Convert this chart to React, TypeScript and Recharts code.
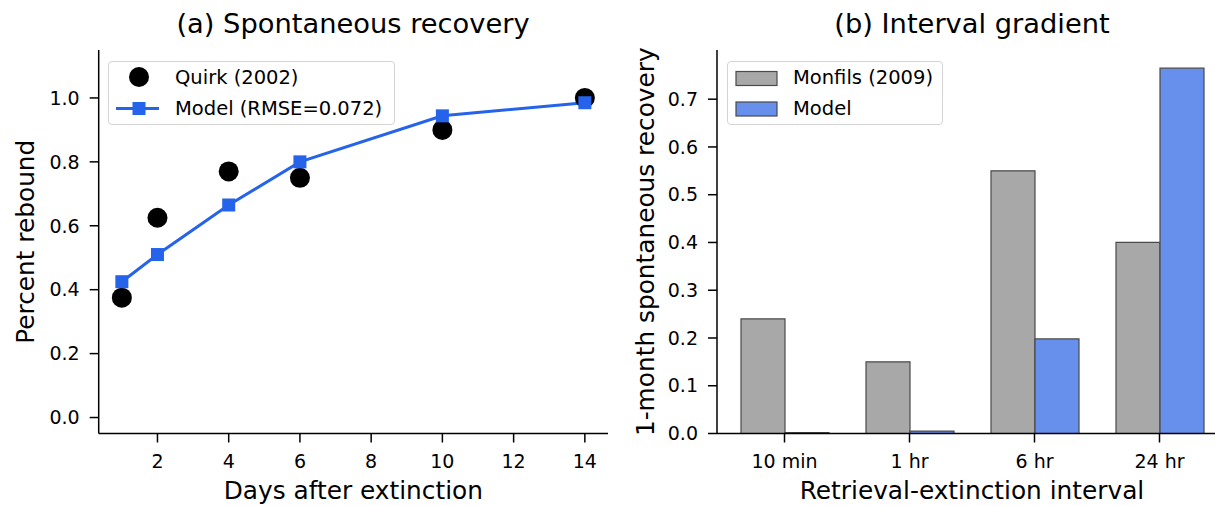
import { ComposedChart, BarChart, Bar, Line, Scatter, XAxis, YAxis, Legend } from "recharts"

const days = [1, 2, 4, 6, 10, 14]
const quirkRebound = [0.375, 0.625, 0.77, 0.75, 0.9, 1.0]
const modelRebound = [0.425, 0.51, 0.665, 0.8, 0.944, 0.985]
const dayTicks = [2, 4, 6, 8, 10, 12, 14]
const reboundTicks = [0, 0.2, 0.4, 0.6, 0.8, 1.0]

const intervals = ["10 min", "1 hr", "6 hr", "24 hr"]
const monfilsRecovery = [0.24, 0.15, 0.55, 0.4]
const modelRecovery = [0.002, 0.005, 0.198, 0.765]
const recoveryTicks = [0, 0.1, 0.2, 0.3, 0.4, 0.5, 0.6, 0.7]

const BLUE = "#2563eb"
const BAR_GRAY = "#a8a8a8"
const BAR_BLUE = "#6690ec"
const EDGE = "#4a4a4a"

const TICK = { fontSize: 19, fill: "#000" }
const AXIS_LINE = { stroke: "#000", strokeWidth: 1.5 }

const reboundData = days.map((d, i) => ({ day: d, quirk: quirkRebound[i], model: modelRebound[i] }))
const recoveryData = intervals.map((name, i) => ({ name, monfils: monfilsRecovery[i], model: modelRecovery[i] }))

function SquareDot(props: any) {
  const { cx, cy } = props
  if (cx == null || cy == null) return null
  return <rect x={cx - 6.5} y={cy - 6.5} width={13} height={13} fill={BLUE} />
}

function CircleDot(props: any) {
  const { cx, cy } = props
  return <circle cx={cx} cy={cy} r={10} fill="#000" />
}

const xLabel = (text: string) => (props: any) => {
  const vb = props.viewBox
  return (
    <text x={vb.x + vb.width / 2} y={vb.y + 65.5} textAnchor="middle" fontSize={24.8} fill="#000">
      {text}
    </text>
  )
}

const yLabel = (text: string) => (props: any) => {
  const vb = props.viewBox
  const x = vb.x + 25
  const y = vb.y + vb.height / 2
  return (
    <text x={x} y={y} transform={`rotate(-90 ${x} ${y})`} textAnchor="middle" dominantBaseline="central" fontSize={24.8} fill="#000">
      {text}
    </text>
  )
}

const legendBox: React.CSSProperties = {
  position: "relative",
  height: 64,
  boxSizing: "border-box",
  border: "1.3px solid #d4d4d4",
  borderRadius: 4,
  background: "rgba(255,255,255,0.8)",
  fontSize: 19.5,
  color: "#000",
}

function rowStyle(i: number): React.CSSProperties {
  return { position: "absolute", left: 0, top: 1 + i * 30.5, height: 30, width: "100%", lineHeight: "30px" }
}

function ReboundLegend() {
  return (
    <div style={{ ...legendBox, width: 287 }}>
      <div style={rowStyle(0)}>
        <svg width={60} height={30} style={{ position: "absolute", left: 0, top: 0 }}>
          <circle cx={30} cy={14} r={10} fill="#000" />
        </svg>
        <span style={{ position: "absolute", left: 66 }}>Quirk (2002)</span>
      </div>
      <div style={rowStyle(1)}>
        <svg width={60} height={30} style={{ position: "absolute", left: 0, top: 0 }}>
          <line x1={7} x2={50} y1={14.5} y2={14.5} stroke={BLUE} strokeWidth={3} />
          <rect x={23.5} y={8} width={13} height={13} fill={BLUE} />
        </svg>
        <span style={{ position: "absolute", left: 66 }}>Model (RMSE=0.072)</span>
      </div>
    </div>
  )
}

function RecoveryLegend() {
  return (
    <div style={{ ...legendBox, width: 216 }}>
      <div style={rowStyle(0)}>
        <svg width={60} height={30} style={{ position: "absolute", left: 0, top: 0 }}>
          <rect x={8} y={8.5} width={41} height={14} fill={BAR_GRAY} stroke={EDGE} strokeWidth={1.2} />
        </svg>
        <span style={{ position: "absolute", left: 65 }}>Monfils (2009)</span>
      </div>
      <div style={rowStyle(1)}>
        <svg width={60} height={30} style={{ position: "absolute", left: 0, top: 0 }}>
          <rect x={8} y={8} width={41} height={14} fill={BAR_BLUE} stroke={EDGE} strokeWidth={1.2} />
        </svg>
        <span style={{ position: "absolute", left: 65 }}>Model</span>
      </div>
    </div>
  )
}

export default function App() {
  return (
    <div
      style={{
        position: "fixed",
        left: 0,
        top: 0,
        width: 1215,
        height: 506,
        overflow: "hidden",
        background: "#fff",
        fontFamily: '"DejaVu Sans", sans-serif',
      }}
    >
      <div style={{ position: "absolute", left: 0, top: 0 }}>
        <ComposedChart width={620} height={506} data={reboundData} margin={{ top: 50, right: 12, bottom: 0, left: 0 }}>
          <XAxis
            dataKey="day"
            type="number"
            domain={[0.35, 14.65]}
            ticks={dayTicks}
            height={72.5}
            tick={TICK}
            tickSize={9}
            tickMargin={12}
            axisLine={AXIS_LINE}
            tickLine={AXIS_LINE}
            label={xLabel("Days after extinction")}
          />
          <YAxis
            type="number"
            domain={[-0.05, 1.15]}
            ticks={reboundTicks}
            width={98.7}
            tick={TICK}
            tickSize={9}
            tickMargin={10}
            axisLine={AXIS_LINE}
            tickLine={AXIS_LINE}
            tickFormatter={(v: number) => v.toFixed(1)}
            label={yLabel("Percent rebound")}
          />
          <Line dataKey="model" stroke={BLUE} strokeWidth={3} dot={<SquareDot />} activeDot={false} isAnimationActive={false} />
          <Scatter dataKey="quirk" shape={<CircleDot />} isAnimationActive={false} />
          <Legend
            layout="horizontal"
            verticalAlign="middle"
            align="center"
            wrapperStyle={{ left: 108, top: 61, width: 287 }}
            content={() => <ReboundLegend />}
          />
        </ComposedChart>
      </div>

      <div style={{ position: "absolute", left: 620, top: 0 }}>
        <BarChart
          width={620}
          height={506}
          data={recoveryData}
          margin={{ top: 50, right: 13, bottom: 0, left: 0 }}
          barGap={0}
          barSize={44}
        >
          <XAxis
            dataKey="name"
            padding={{ left: 5, right: 5 }}
            height={72.5}
            tick={TICK}
            tickSize={9}
            tickMargin={12}
            axisLine={AXIS_LINE}
            tickLine={AXIS_LINE}
            label={xLabel("Retrieval-extinction interval")}
          />
          <YAxis
            type="number"
            domain={[0, 0.803]}
            ticks={recoveryTicks}
            width={97}
            tick={TICK}
            tickSize={9}
            tickMargin={10}
            axisLine={AXIS_LINE}
            tickLine={AXIS_LINE}
            tickFormatter={(v: number) => v.toFixed(1)}
            label={yLabel("1-month spontaneous recovery")}
          />
          <Bar dataKey="monfils" fill={BAR_GRAY} stroke={EDGE} strokeWidth={1.2} isAnimationActive={false} />
          <Bar dataKey="model" fill={BAR_BLUE} stroke={EDGE} strokeWidth={1.2} isAnimationActive={false} />
          <Legend
            layout="horizontal"
            verticalAlign="middle"
            align="center"
            wrapperStyle={{ left: 107, top: 61, width: 216 }}
            content={() => <RecoveryLegend />}
          />
        </BarChart>
      </div>

      <svg width={1215} height={506} style={{ position: "absolute", left: 0, top: 0, pointerEvents: "none" }}>
        <text x={353} y={33} textAnchor="middle" fontSize={27.3} fill="#000">
          (a) Spontaneous recovery
        </text>
        <text x={972} y={33} textAnchor="middle" fontSize={27.3} fill="#000">
          (b) Interval gradient
        </text>
      </svg>
    </div>
  )
}
